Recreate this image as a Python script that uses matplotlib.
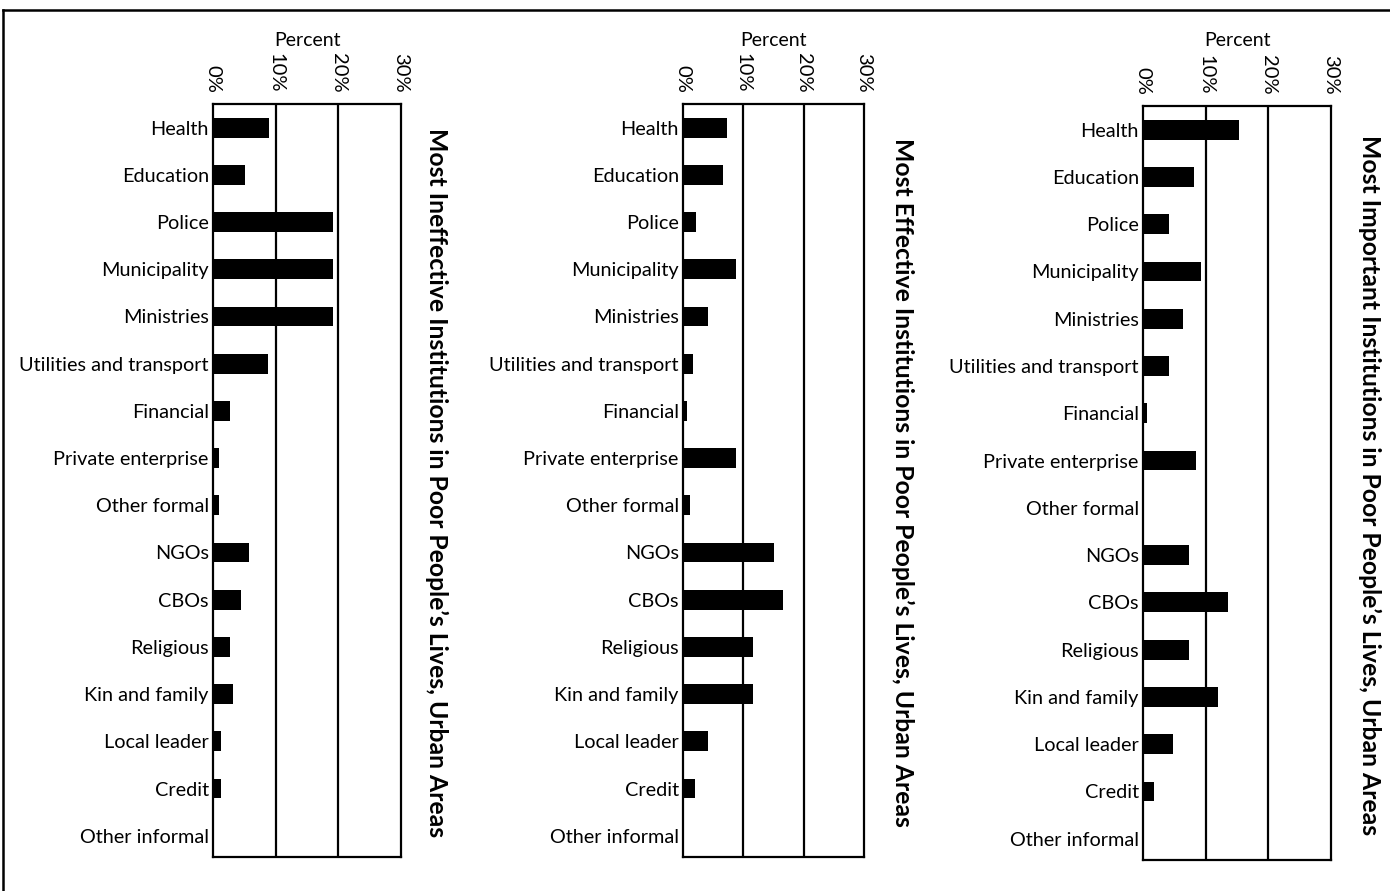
import matplotlib
matplotlib.use("Agg")
import matplotlib.pyplot as plt
from matplotlib.lines import Line2D
import numpy as np

plt.rcParams['font.family'] = ['Lato', 'DejaVu Sans']

categories = ["Health", "Education", "Police", "Municipality", "Ministries",
              "Utilities and transport", "Financial", "Private enterprise",
              "Other formal", "NGOs", "CBOs", "Religious", "Kin and family",
              "Local leader", "Credit", "Other informal"]

ineffective = [9.0, 5.1, 19.2, 19.2, 19.2, 8.7, 2.7, 0.9, 0.9, 5.8, 4.4, 2.7, 3.2, 1.3, 1.3, 0.0]
effective = [7.3, 6.6, 2.2, 8.8, 4.2, 1.7, 0.7, 8.8, 1.2, 15.1, 16.6, 11.6, 11.6, 4.1, 2.0, 0.0]
important = [15.3, 8.2, 4.2, 9.2, 6.4, 4.2, 0.7, 8.5, 0.0, 7.3, 13.6, 7.3, 11.9, 4.8, 1.7, 0.0]

tick_values = [0, 10, 20, 30]
tick_labels = ["0%", "10%", "20%", "30%"]
axis_label = "Percent"
titles = ["Most Ineffective Institutions in Poor People\u2019s Lives, Urban Areas",
          "Most Effective Institutions in Poor People\u2019s Lives, Urban Areas",
          "Most Important Institutions in Poor People\u2019s Lives, Urban Areas"]
series = [ineffective, effective, important]

W, H = 1390, 891
fig = plt.figure(figsize=(W / 100, H / 100), dpi=100)

# axes boxes in pixels: (left, right, top, bottom)
boxes = [(213, 401, 104, 857), (683, 864, 104, 857), (1143, 1331, 106, 860)]
title_x = [437, 903, 1370]

y = np.arange(len(categories))
for vals, (l, r, t, b), title, tx in zip(series, boxes, titles, title_x):
    ax = fig.add_axes([l / W, 1 - b / H, (r - l) / W, (b - t) / H])
    ax.barh(y, vals, height=0.42, color='black')
    ax.set_xlim(0, 30)
    ax.set_ylim(len(categories) - 0.55, -0.5)
    ax.set_yticks(y)
    ax.set_yticklabels(categories, fontsize=14.3)
    ax.xaxis.tick_top()
    ax.set_xticks(tick_values)
    ax.set_xticklabels(tick_labels, fontsize=14.5, rotation=-90)
    ax.tick_params(axis='both', length=0)
    ax.tick_params(axis='x', pad=8)
    ax.tick_params(axis='y', pad=3)
    for v in [10, 20]:
        ax.axvline(v, color='black', lw=1.6, zorder=0)
    for s in ax.spines.values():
        s.set_linewidth(1.6)
        s.set_color('black')
    cx = (l + r) / 2 / W
    fig.text(cx, 1 - 41 / H, axis_label, ha='center', va='center', fontsize=14)
    fig.text(tx / W, 1 - ((t + b) / 2 + 2) / H, title, rotation=-90,
             ha='center', va='center', fontsize=17.8, fontweight='bold')

# frame lines (top and left)
fig.add_artist(Line2D([3 / W, 1.0], [1 - 10 / H, 1 - 10 / H], color='black', lw=1.8,
                      transform=fig.transFigure))
fig.add_artist(Line2D([3 / W, 3 / W], [0, 1 - 10 / H], color='black', lw=1.8,
                      transform=fig.transFigure))

fig.savefig("out.png", dpi=100)
